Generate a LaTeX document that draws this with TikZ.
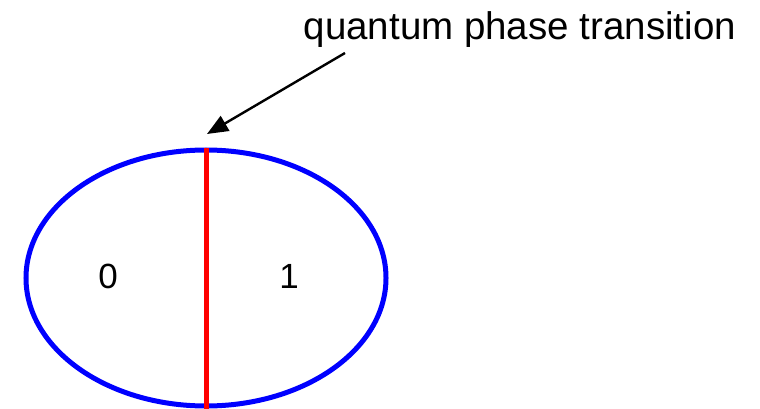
\documentclass[tikz,border=0pt]{standalone}
\usepackage{fontspec}
\setmainfont{Liberation Sans}
\usetikzlibrary{arrows.meta}
\tikzset{
  lbl/.style={inner sep=0pt, anchor=base, font=\fontsize{35}{40}\selectfont},
  region/.style={draw=blue, line width=5pt},
  qpt/.style={draw=red, line width=5pt},
  pointer/.style={draw=black, line width=2.4pt, -{Triangle[length=21pt,width=17pt]}}
}
\begin{document}
\begin{tikzpicture}[x=1pt,y=-1pt]
\useasboundingbox (0,0) rectangle (760,409);
\begin{scope}
\clip (0,0) rectangle (760,409);
\draw[region] (206,278) ellipse [x radius=180, y radius=128];
\coordinate (top) at (206,148);
\coordinate (bot) at (206,412);
\draw[qpt] (top) -- (bot);
\end{scope}
\node[inner sep=0pt, anchor=base west, font=\fontsize{38.5}{44}\selectfont] (title) at (303.5,40) {quantum phase transition};
\coordinate (src) at (345,53);
\coordinate (tip) at (207,134);
\draw[pointer] (src) -- (tip);
\node[lbl] (zero) at (108,288) {0};
\node[lbl] (one) at (289,288) {1};
\end{tikzpicture}
\end{document}
